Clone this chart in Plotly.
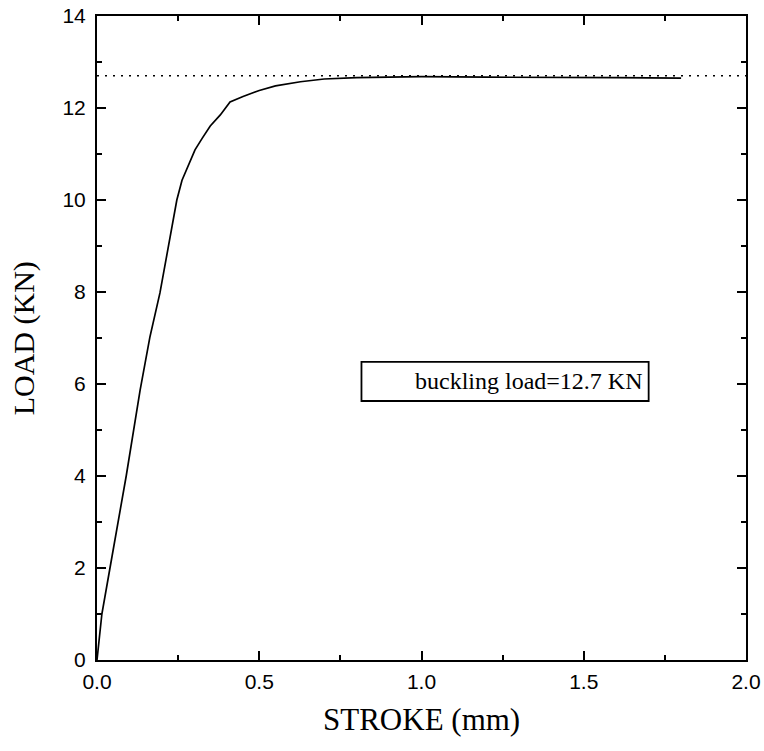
import plotly.graph_objects as go

# Load-stroke curve of the compression test
stroke_mm = [0.0, 0.015, 0.04, 0.09, 0.133, 0.163, 0.194, 0.225, 0.246, 0.262,
             0.282, 0.302, 0.325, 0.349, 0.38, 0.41, 0.45, 0.5, 0.55, 0.627,
             0.7, 0.8, 0.9, 1.0, 1.2, 1.4, 1.6, 1.8]
load_kn = [0.0, 1.0, 2.0, 4.0, 5.87, 7.02, 7.98, 9.2, 10.0, 10.43,
           10.75, 11.09, 11.35, 11.61, 11.85, 12.13, 12.25, 12.38, 12.48, 12.57,
           12.63, 12.66, 12.67, 12.68, 12.67, 12.67, 12.66, 12.65]

buckling_load = 12.7
x_range = [0.0, 2.0]
y_range = [0.0, 14.0]

fig = go.Figure()

fig.add_trace(go.Scatter(
    x=x_range, y=[buckling_load, buckling_load], mode="lines",
    line=dict(color="black", width=1.6, dash="2px,6px"), showlegend=False,
))
fig.add_trace(go.Scatter(
    x=stroke_mm, y=load_kn, mode="lines",
    line=dict(color="black", width=1.7), showlegend=False,
))

# Label box
fig.add_shape(type="rect", xref="x", yref="y", x0=0.815, x1=1.70, y0=5.63, y1=6.48,
              line=dict(color="black", width=1.8), fillcolor="rgba(0,0,0,0)")
fig.add_annotation(x=1.69, y=6.055, xref="x", yref="y", xanchor="right", yanchor="middle",
                   text=f"buckling load={buckling_load} KN", showarrow=False,
                   font=dict(family="Liberation Serif", size=24, color="black"))

# Axis titles
fig.add_annotation(x=0.5, y=-0.093, xref="paper", yref="paper", xanchor="center", yanchor="middle",
                   text="STROKE (mm)", showarrow=False,
                   font=dict(family="Liberation Serif", size=31, color="black"))
fig.add_annotation(x=-0.112, y=0.5, xref="paper", yref="paper", xanchor="center", yanchor="middle",
                   text="LOAD (KN)", showarrow=False, textangle=-90,
                   font=dict(family="Liberation Serif", size=30, color="black"))

axis_common = dict(
    showline=True, linecolor="black", linewidth=2, mirror="ticks",
    ticks="inside", tickcolor="black", tickwidth=2, ticklen=9,
    showgrid=False, zeroline=False, automargin=False,
    tickfont=dict(family="Liberation Sans", size=21, color="black"),
)

fig.update_xaxes(
    range=x_range, dtick=0.5, tickformat=".1f", ticklabelstandoff=2,
    minor=dict(ticks="inside", dtick=0.25, ticklen=5, tickwidth=2, tickcolor="black", showgrid=False),
    **axis_common,
)
fig.update_yaxes(
    range=y_range, dtick=2, ticklabelstandoff=5,
    minor=dict(ticks="inside", dtick=1, ticklen=5, tickwidth=2, tickcolor="black", showgrid=False),
    **axis_common,
)

fig.update_layout(
    width=764, height=751,
    margin=dict(l=97, r=18, t=16, b=91),
    paper_bgcolor="white", plot_bgcolor="white",
)

fig.write_html("out.html")
